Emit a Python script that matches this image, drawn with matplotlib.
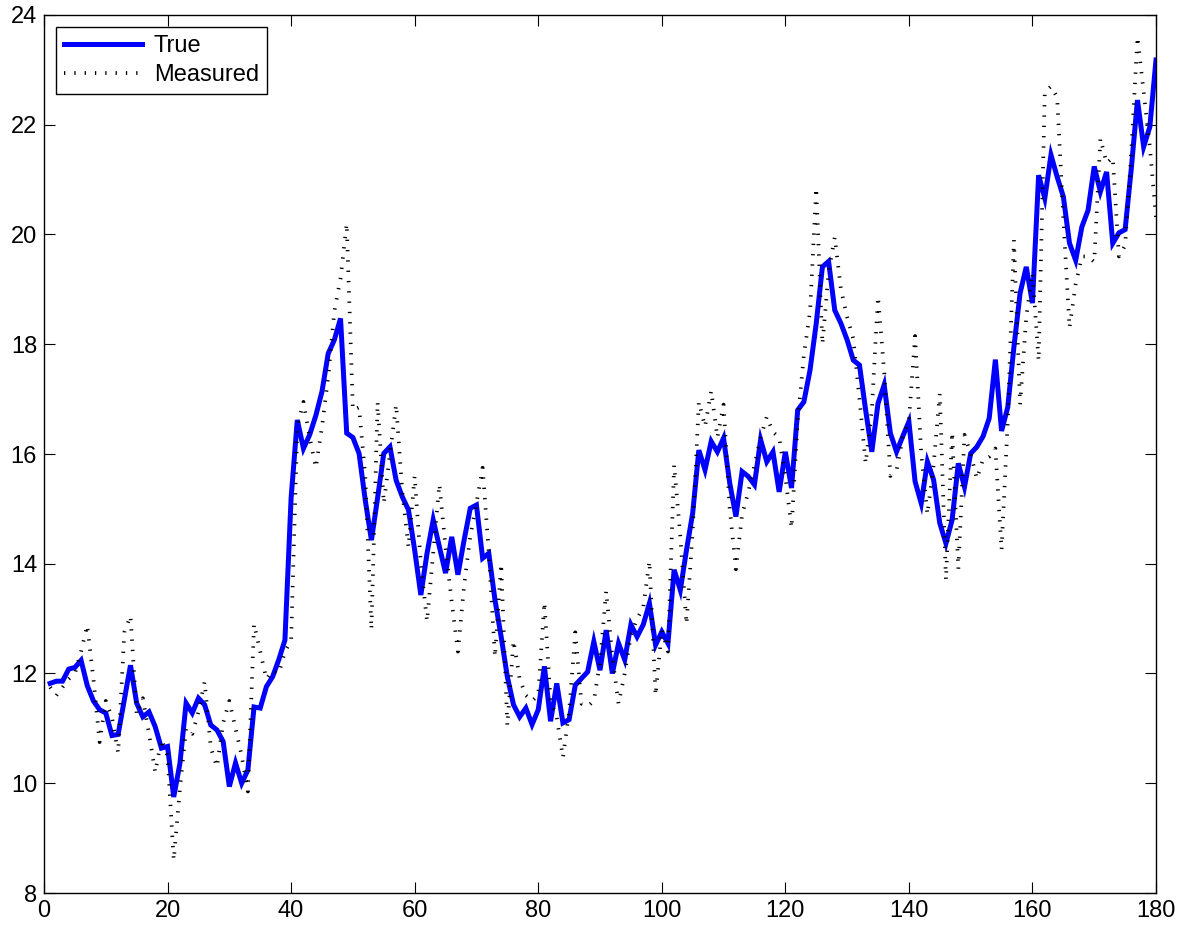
import numpy as np
import matplotlib
matplotlib.use("Agg")
import matplotlib.pyplot as plt

plt.rcParams['font.family'] = ['Liberation Sans', 'DejaVu Sans']

# time index
t = np.arange(1, 181)

# true signal
true_vals = [
    11.82, 11.86, 11.86, 12.08, 12.11, 12.24, 11.78, 11.50, 11.34, 11.28,
    10.87, 10.89, 11.52, 12.15, 11.46, 11.21, 11.30, 11.03, 10.64, 10.67,
    9.75, 10.36, 11.46, 11.28, 11.55, 11.43, 11.06, 10.97, 10.76, 9.94,
    10.37, 10.00, 10.24, 11.39, 11.37, 11.76, 11.94, 12.25, 12.61, 15.20,
    16.62, 16.10, 16.35, 16.70, 17.14, 17.83, 18.08, 18.47, 16.38, 16.30,
    16.01, 15.16, 14.43, 15.20, 16.01, 16.13, 15.52, 15.22, 14.98, 14.25,
    13.43, 14.19, 14.80, 14.31, 13.83, 14.49, 13.80, 14.43, 15.01, 15.07,
    14.10, 14.19, 13.34, 12.67, 11.94, 11.43, 11.21, 11.37, 11.07, 11.34,
    12.13, 11.13, 11.82, 11.10, 11.16, 11.79, 11.91, 12.03, 12.58, 12.06,
    12.79, 12.00, 12.55, 12.25, 12.89, 12.67, 12.89, 13.28, 12.52, 12.76,
    12.55, 13.89, 13.52, 14.25, 14.92, 16.07, 15.71, 16.23, 16.04, 16.29,
    15.47, 14.86, 15.68, 15.59, 15.44, 16.26, 15.86, 16.04, 15.31, 16.04,
    15.38, 16.80, 16.95, 17.53, 18.38, 19.41, 19.51, 18.62, 18.38, 18.08,
    17.71, 17.62, 16.80, 16.04, 16.92, 17.26, 16.38, 16.04, 16.32, 16.59,
    15.50, 15.10, 15.86, 15.53, 14.74, 14.37, 14.80, 15.83, 15.40, 16.01,
    16.13, 16.32, 16.65, 17.72, 16.42, 16.85, 17.95, 18.93, 19.41, 18.75,
    21.08, 20.66, 21.45, 21.05, 20.69, 19.84, 19.53, 20.14, 20.44, 21.24,
    20.78, 21.14, 19.84, 20.03, 20.09, 21.20, 22.45, 21.60, 21.96, 23.18,
]

# noisy measurements
measured_vals = [
    11.75, 11.60, 11.75, 11.90, 12.00, 12.40, 12.88, 11.90, 10.75, 11.50,
    11.20, 10.55, 12.75, 13.05, 11.25, 11.55, 10.90, 10.20, 10.80, 10.50,
    8.60, 9.90, 11.00, 10.90, 11.30, 11.85, 10.65, 10.30, 11.10, 11.50,
    11.00, 10.50, 9.85, 12.90, 12.40, 11.90, 12.05, 12.00, 12.40, 12.60,
    16.50, 16.95, 16.30, 15.75, 16.50, 17.40, 18.60, 19.20, 20.20, 16.80,
    16.85, 15.60, 12.80, 16.95, 15.10, 16.00, 16.90, 15.30, 14.30, 15.60,
    14.00, 12.95, 14.20, 15.45, 14.30, 13.30, 12.40, 13.60, 14.50, 15.10,
    15.75, 14.20, 12.30, 14.00, 11.05, 12.60, 11.90, 11.60, 11.50, 11.60,
    13.30, 11.50, 11.20, 10.47, 11.30, 12.75, 11.45, 11.40, 11.50, 12.20,
    13.50, 12.30, 11.45, 12.00, 12.70, 13.00, 13.20, 14.05, 11.60, 12.80,
    12.40, 15.80, 14.50, 12.90, 14.60, 16.95, 16.50, 17.15, 16.30, 16.90,
    15.00, 13.90, 14.90, 15.30, 15.80, 16.30, 16.68, 16.40, 16.30, 15.60,
    14.65, 16.60, 17.80, 18.60, 20.85, 18.00, 19.30, 19.95, 19.00, 18.50,
    18.10, 17.00, 15.83, 16.80, 18.87, 17.50, 15.60, 15.70, 16.30, 16.60,
    18.15, 16.00, 14.90, 15.80, 17.10, 13.70, 16.40, 13.90, 16.35, 16.00,
    15.55, 15.90, 15.95, 16.10, 14.25, 16.60, 19.90, 16.90, 18.50, 19.30,
    17.70, 22.60, 22.70, 22.50, 20.30, 18.30, 19.10, 19.60, 19.60, 19.50,
    21.75, 21.30, 21.40, 19.60, 19.80, 21.50, 23.60, 22.60, 21.60, 20.30,
]

x_ticks = list(range(0, 181, 20))
y_ticks = list(range(8, 25, 2))

fig = plt.figure(figsize=(11.83, 9.30), dpi=100)
ax = fig.add_axes([44 / 1183, 1 - 893 / 930, (1156 - 44) / 1183, (893 - 15) / 930])

ax.plot(t, true_vals, color=(0, 0, 1), linewidth=3.6, label='True',
        solid_joinstyle='miter', zorder=2)
meas_line, = ax.plot(t, measured_vals, color='k', linewidth=2.7,
                     label='Measured', zorder=3)
meas_line.set_dashes((0.35, 2.4))
meas_line.set_dash_capstyle('butt')

ax.set_xlim(0, 180)
ax.set_ylim(8, 24)
ax.set_xticks(x_ticks)
ax.set_yticks(y_ticks)
ax.tick_params(direction='in', length=8, width=0.8, top=True, right=True,
               labelsize=17, pad=5)
for sp in ax.spines.values():
    sp.set_linewidth(1.0)

leg = ax.legend(loc='upper left', fontsize=17, handlelength=3.3,
                handletextpad=0.5, borderpad=0.35, labelspacing=0.3,
                borderaxespad=0.5, fancybox=False, framealpha=1,
                edgecolor='k')
leg.get_frame().set_linewidth(1.0)

fig.savefig('out.png', dpi=100)
